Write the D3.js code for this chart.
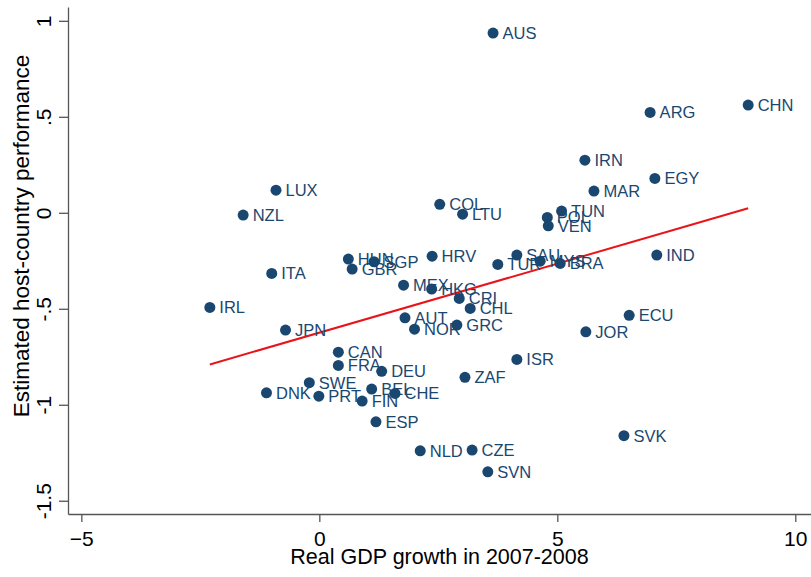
<!DOCTYPE html>
<html>
<head>
<meta charset="utf-8">
<script src="https://cdn.jsdelivr.net/npm/d3@7"></script>
<style>
  body { margin: 0; background: #fff; }
  svg { display: block; font-family: "Liberation Sans", Arial, sans-serif; }
</style>
</head>
<body>
<svg id="chart" width="811" height="577"></svg>
<script>
// country codes, GDP growth 2007-2008 (x) and estimated performance (y)
const countries = ['AUS', 'CHN', 'ARG', 'IRN', 'EGY', 'MAR', 'LUX', 'NZL', 'COL', 'LTU',
  'TUN', 'POL', 'VEN', 'HUN', 'SGP', 'GBR', 'ITA', 'IRL', 'JPN', 'MEX',
  'HKG', 'AUT', 'NOR', 'HRV', 'SAU', 'TUR', 'MYS', 'BRA', 'IND', 'CRI',
  'CHL', 'GRC', 'ECU', 'JOR', 'ISR', 'ZAF', 'CAN', 'FRA', 'DEU', 'SWE',
  'DNK', 'PRT', 'BEL', 'CHE', 'FIN', 'ESP', 'NLD', 'CZE', 'SVN', 'SVK'];

const gdpGrowth = [3.65, 9.01, 6.95, 5.58, 7.05, 5.77, -0.91, -1.60, 2.53, 3.01,
  5.09, 4.79, 4.81, 0.61, 1.15, 0.69, -1.00, -2.30, -0.71, 1.77,
  2.36, 1.80, 2.00, 2.37, 4.15, 3.75, 4.64, 5.06, 7.09, 2.94,
  3.17, 2.89, 6.51, 5.60, 4.15, 3.06, 0.40, 0.40, 1.31, -0.21,
  -1.11, -0.01, 1.10, 1.59, 0.90, 1.19, 2.12, 3.21, 3.54, 6.40];

const performance = [0.936, 0.561, 0.523, 0.274, 0.179, 0.113, 0.118, -0.012, 0.044, -0.007,
  0.009, -0.024, -0.068, -0.241, -0.255, -0.293, -0.316, -0.493, -0.611, -0.377,
  -0.397, -0.547, -0.606, -0.226, -0.220, -0.269, -0.252, -0.264, -0.220, -0.446,
  -0.498, -0.585, -0.534, -0.620, -0.764, -0.857, -0.726, -0.795, -0.826, -0.885,
  -0.938, -0.955, -0.918, -0.941, -0.981, -1.089, -1.240, -1.236, -1.349, -1.161];

const xTicks = [-5, 0, 5, 10];
const yTicks = [1, 0.5, 0, -0.5, -1, -1.5];
const yTickLabels = ['1', '.5', '0', '-.5', '-1', '-1.5'];

const navy = '#1a476f';

const svg = d3.select('#chart');

const x = d3.scaleLinear().domain([-5.28, 10.33]).range([68, 811]);
const y = d3.scaleLinear().domain([-1.569, 1.072]).range([514, 7]);

const points = countries.map((c, i) => ({code: c, gx: gdpGrowth[i], py: performance[i]}));

// axes
const xAxis = svg.append('g')
    .attr('transform', 'translate(0,514)')
    .call(d3.axisBottom(x).tickValues(xTicks).tickSize(8).tickSizeOuter(0)
      .tickFormat(d3.format('d')));
xAxis.selectAll('text')
    .attr('y', 32).attr('dy', 0)
    .style('font-size', '21px').style('fill', '#000');

const yAxis = svg.append('g')
    .attr('transform', 'translate(68,0)')
    .call(d3.axisLeft(y).tickValues(yTicks).tickSize(9).tickSizeOuter(0)
      .tickFormat((d, i) => yTickLabels[i]));
yAxis.selectAll('text')
    .attr('x', 0).attr('dy', 0)
    .attr('text-anchor', 'middle')
    .attr('transform', 'translate(-17,0) rotate(-90)')
    .style('font-size', '21px').style('fill', '#000');

svg.selectAll('.domain, .tick line')
    .attr('stroke', '#555').attr('stroke-width', 1.3);

// axis titles
svg.append('text')
    .attr('x', 439.5).attr('y', 564)
    .attr('text-anchor', 'middle')
    .style('font-size', '21.5px')
    .text('Real GDP growth in 2007-2008');

svg.append('text')
    .attr('transform', 'translate(29,236) rotate(-90)')
    .attr('text-anchor', 'middle')
    .style('font-size', '22.5px')
    .text('Estimated host-country performance');

// linear fit
const mx = d3.mean(gdpGrowth), my = d3.mean(performance);
const sxy = d3.sum(points, d => (d.gx - mx) * (d.py - my));
const sxx = d3.sum(points, d => (d.gx - mx) * (d.gx - mx));
const slope = sxy / sxx, intercept = my - slope * mx;
const fitX = d3.extent(gdpGrowth);

svg.append('line')
    .attr('x1', x(fitX[0])).attr('y1', y(intercept + slope * fitX[0]))
    .attr('x2', x(fitX[1])).attr('y2', y(intercept + slope * fitX[1]))
    .attr('stroke', '#e8141a').attr('stroke-width', 2);

// markers and labels
const node = svg.append('g').selectAll('g')
    .data(points)
  .enter().append('g')
    .attr('transform', d => 'translate(' + x(d.gx) + ',' + y(d.py) + ')');

node.append('circle')
    .attr('r', 5.5)
    .attr('fill', navy);

node.append('text')
    .attr('x', 9.5)
    .attr('dy', '.36em')
    .style('font-size', '16.5px')
    .style('fill', navy)
    .text(d => d.code);
</script>
</body>
</html>
